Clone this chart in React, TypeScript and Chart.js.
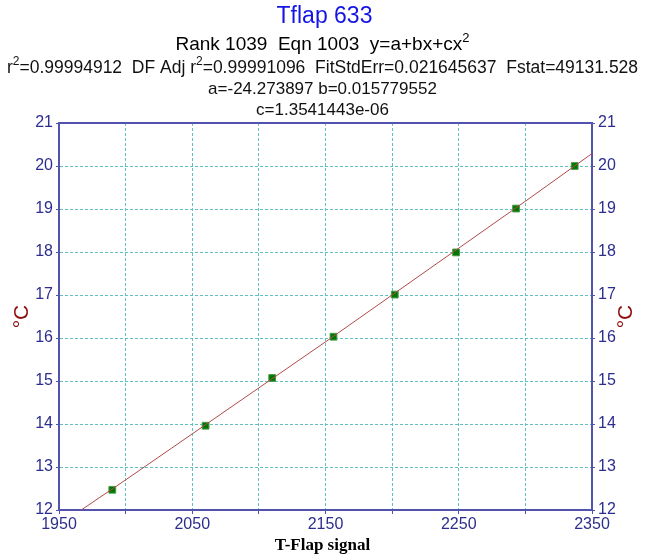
import { useEffect, useRef } from 'react';
import { Chart, registerables } from 'chart.js';

Chart.register(...registerables);

// Data points (T-Flap signal -> °C)
const pointX = [1990, 2060, 2110, 2156, 2202, 2248, 2293, 2337];
const pointY = [12.47, 13.96, 15.07, 16.03, 17.01, 17.99, 19.01, 20.0];

// Fitted curve values
const curveX = [1950, 2000, 2050, 2100, 2150, 2200, 2250, 2300, 2350];
const curveY = [11.65, 12.7, 13.77, 14.84, 15.91, 17.0, 18.09, 19.18, 20.29];

const xMin = 1950;
const xMax = 2350;
const yMin = 12;
const yMax = 21;

const titleText = 'Tflap 633';
// segments: [text, isSuperscript]
const headerLine2: [string, boolean][] = [['Rank 1039  Eqn 1003  y=a+bx+cx', false], ['2', true]];
const headerLine3: [string, boolean][] = [
  ['r', false], ['2', true], ['=0.99994912  DF Adj r', false], ['2', true],
  ['=0.99991096  FitStdErr=0.021645637  Fstat=49131.528', false],
];
const headerLine4: [string, boolean][] = [['a=-24.273897 b=0.015779552', false]];
const headerLine5: [string, boolean][] = [['c=1.3541443e-06', false]];
const xTitle = 'T-Flap signal';
const yTitle = '°C';

const SANS = '"Liberation Sans", Arial, sans-serif';
const SERIF = '"Liberation Serif", "Times New Roman", serif';
const NAVY = '#2d2d8f';
const AXIS = '#5252b0';
const GRID = '#63c0c0';

function drawRuns(ctx: CanvasRenderingContext2D, runs: [string, boolean][], cx: number, cy: number, size: number, color: string, weight = 'normal') {
  const base = `${weight} ${size}px ${SANS}`;
  const sup = `${weight} ${Math.round(size * 0.7)}px ${SANS}`;
  let total = 0;
  const widths = runs.map(([t, s]) => {
    ctx.font = s ? sup : base;
    const w = ctx.measureText(t).width;
    total += w;
    return w;
  });
  let x = cx - total / 2;
  ctx.fillStyle = color;
  ctx.textAlign = 'left';
  ctx.textBaseline = 'middle';
  runs.forEach(([t, s], i) => {
    ctx.font = s ? sup : base;
    ctx.fillText(t, x, s ? cy - size * 0.35 : cy);
    x += widths[i];
  });
}

const decorPlugin = {
  id: 'decor',
  afterDraw(chart: any) {
    const { ctx, chartArea } = chart;
    const cx = chart.width / 2;
    ctx.save();
    // top border
    ctx.strokeStyle = AXIS;
    ctx.lineWidth = 2;
    ctx.beginPath();
    ctx.moveTo(chartArea.left, chartArea.top);
    ctx.lineTo(chartArea.right, chartArea.top);
    ctx.stroke();

    drawRuns(ctx, [[titleText, false]], cx + 2, 17, 23, '#1414e6');
    drawRuns(ctx, headerLine2, cx, 45, 19, '#000000');
    drawRuns(ctx, headerLine3, cx, 68, 17.5, '#111111');
    drawRuns(ctx, headerLine4, cx, 89, 17, '#111111');
    drawRuns(ctx, headerLine5, cx, 110, 17, '#111111');

    // x title
    ctx.font = `bold 17px ${SERIF}`;
    ctx.fillStyle = '#000000';
    ctx.textAlign = 'center';
    ctx.textBaseline = 'middle';
    ctx.fillText(xTitle, cx, 546);

    // y titles (both rotated the same way)
    const midY = (chartArea.top + chartArea.bottom) / 2;
    ctx.font = `21px ${SANS}`;
    ctx.fillStyle = '#8b1010';
    [22, 626].forEach((px) => {
      ctx.save();
      ctx.translate(px, midY);
      ctx.rotate(-Math.PI / 2);
      ctx.fillText(yTitle, 0, 0);
      ctx.restore();
    });
    ctx.restore();
  },
};

export default function App() {
  const ref = useRef<HTMLCanvasElement | null>(null);

  useEffect(() => {
    document.body.style.margin = '0';
    const canvas = ref.current;
    if (!canvas) return;
    const tickFont = { family: SANS, size: 16 };
    const chart = new Chart(canvas, {
      type: 'scatter',
      data: {
        datasets: [
          {
            type: 'line',
            label: 'fit',
            data: curveX.map((x, i) => ({ x, y: curveY[i] })),
            borderColor: '#b04a4a',
            borderWidth: 1,
            pointRadius: 0,
            fill: false,
            tension: 0,
          } as any,
          {
            label: 'data',
            data: pointX.map((x, i) => ({ x, y: pointY[i] })),
            pointStyle: 'rect',
            pointRadius: 4.8,
            backgroundColor: '#007800',
            borderColor: '#4a9a4a',
            borderWidth: 1,
          },
        ],
      },
      options: {
        responsive: false,
        animation: false,
        layout: { padding: { top: 123, left: 0, right: 0, bottom: 0 } },
        plugins: { legend: { display: false }, tooltip: { enabled: false }, title: { display: false } },
        scales: {
          x: {
            type: 'linear',
            min: xMin,
            max: xMax,
            ticks: {
              stepSize: 50,
              autoSkip: false,
              maxRotation: 0,
              color: NAVY,
              font: tickFont,
              padding: 1,
              callback: (v: any) => ((Number(v) - xMin) % 100 === 0 ? String(v) : ''),
            },
            grid: { color: GRID, lineWidth: 1, tickColor: AXIS, tickLength: 4, tickBorderDash: [] },
            border: { color: AXIS, width: 2, dash: [3, 2] },
            afterFit: (s: any) => { s.height = 48; },
          },
          y: {
            type: 'linear',
            position: 'left',
            min: yMin,
            max: yMax,
            ticks: { stepSize: 1, color: NAVY, font: tickFont, padding: 3 },
            grid: { color: GRID, lineWidth: 1, tickColor: AXIS, tickLength: 3, tickBorderDash: [] },
            border: { color: AXIS, width: 2, dash: [3, 2] },
            afterFit: (s: any) => { s.width = 59; },
          },
          y2: {
            type: 'linear',
            position: 'right',
            min: yMin,
            max: yMax,
            ticks: { stepSize: 1, color: NAVY, font: tickFont, padding: 3 },
            grid: { drawOnChartArea: false, tickColor: AXIS, tickLength: 3 },
            border: { color: AXIS, width: 2 },
            afterFit: (s: any) => { s.width = 53; },
          },
        },
      },
      plugins: [decorPlugin],
    });
    return () => chart.destroy();
  }, []);

  return <canvas ref={ref} width={645} height={558} style={{ display: 'block' }} />;
}
